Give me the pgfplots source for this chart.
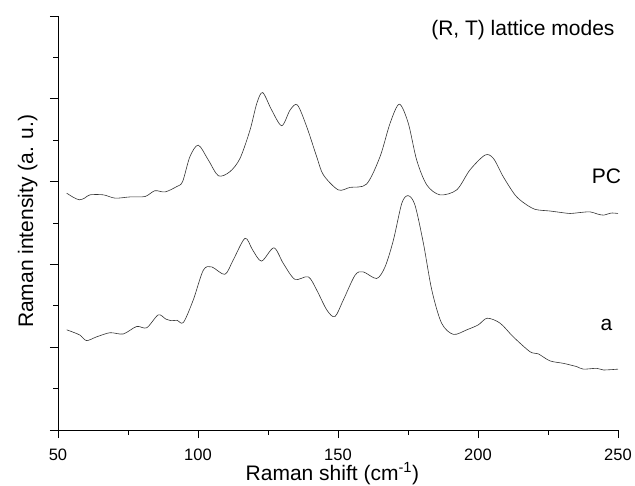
\documentclass[border=0pt]{standalone}
\usepackage{pgfplots}
\pgfplotsset{compat=1.18}
\usepackage{fontspec}
\setmainfont{Liberation Sans}

\begin{document}
\begin{tikzpicture}
\begin{axis}[
    name=ax,
    scale only axis,
    width=560pt, height=414pt,
    xmin=50, xmax=250, ymin=0, ymax=10,
    axis x line*=bottom, axis y line*=left,
    axis line style={-, line width=0.8pt},
    tick align=outside,
    major tick length=8pt, minor tick length=4.5pt,
    every tick/.style={black, line width=0.8pt},
    xtick={50,100,150,200,250},
    minor x tick num=1,
    ytick={0,2,4,6,8,10},
    minor y tick num=1,
    yticklabels={},
    /pgf/number format/assume math mode=true,
    tick label style={font=\fontsize{16.5}{19}\selectfont},
    xticklabel style={inner sep=1pt, yshift=-10pt},
    label style={font=\fontsize{21}{25}\selectfont, inner sep=1pt},
    xlabel={Raman shift (cm\textsuperscript{-1})},
    xlabel style={at={(axis description cs:0.49,-0.121)}, anchor=base},
    ylabel={Raman intensity (a. u.)},
    ylabel style={at={(axis description cs:-0.0446,0.504)}, anchor=base},
    clip=false,
]
% PC spectrum (offset)
\addplot[black!80, line width=0.6pt, smooth] coordinates {
(53.1,5.72)(55.5,5.62)(57.6,5.56)(59.5,5.60)(61.4,5.68)(66.2,5.68)(70.4,5.60)
(75.7,5.63)(81.1,5.64)(84.6,5.78)(88.2,5.75)(92.4,5.88)(94.5,6.0)(97.1,6.60)
(100.1,6.88)(103.7,6.52)(107.3,6.14)(111.4,6.24)(115,6.56)(118.6,7.25)(121,7.89)
(123.1,8.15)(126.3,7.73)(129.9,7.35)(132.9,7.73)(135.5,7.85)(138.8,7.33)(142.4,6.60)
(144.8,6.16)(150.1,5.80)(154.3,5.86)(160.2,5.94)(165,6.60)(168.6,7.41)(171.9,7.87)
(175.1,7.41)(178.1,6.52)(181.7,5.92)(186.4,5.68)(192.4,5.80)(197.1,6.28)(202.5,6.64)
(205.5,6.56)(209,6.12)(213.2,5.68)(216.5,5.48)(220.4,5.33)(225.7,5.29)(229,5.26)
(232.9,5.23)(236,5.25)(240,5.27)(242.5,5.22)(244.8,5.19)(247.5,5.24)(250,5.23)
};
% a spectrum
\addplot[black!80, line width=0.6pt, smooth] coordinates {
(53.1,2.42)(55.5,2.36)(57.9,2.29)(60.2,2.16)(63.8,2.25)(68.6,2.35)(73.3,2.32)
(78.1,2.50)(81.7,2.47)(85.8,2.78)(88.5,2.68)(90.6,2.64)(92.5,2.65)(94.8,2.60)
(98.3,3.14)(101.9,3.86)(104.9,3.94)(109.6,3.76)(112.6,4.11)(116.8,4.63)(119.5,4.35)
(122.7,4.08)(127.1,4.40)(130.5,4.02)(134.6,3.64)(139.4,3.70)(142.4,3.38)(146,2.90)
(148.9,2.74)(151.9,3.14)(156.1,3.74)(159,3.82)(163.8,3.66)(166.8,3.94)(169.8,4.59)
(172.8,5.48)(175.1,5.66)(177.5,5.43)(180.5,4.51)(183.5,3.38)(187,2.58)(191.2,2.31)
(196,2.42)(200.1,2.54)(203.3,2.70)(207.9,2.58)(212.6,2.25)(218.6,1.89)(221.5,1.84)
(225.7,1.67)(230.5,1.61)(235.3,1.53)(237.6,1.47)(242.4,1.49)(244.8,1.45)(250,1.47)
};
\node[anchor=east, font=\fontsize{21}{25}\selectfont] at (axis cs:250,9.66) {(R, T) lattice modes};
\node[font=\fontsize{21}{25}\selectfont] at (axis cs:245.9,6.14) {PC};
\node[font=\fontsize{21}{25}\selectfont] at (axis cs:245.9,2.54) {a};
\end{axis}
\pgfresetboundingbox
\path[use as bounding box] ([xshift=-58pt,yshift=-55pt]ax.south west) rectangle ([xshift=17pt,yshift=16pt]ax.north east);
\end{tikzpicture}
\end{document}
